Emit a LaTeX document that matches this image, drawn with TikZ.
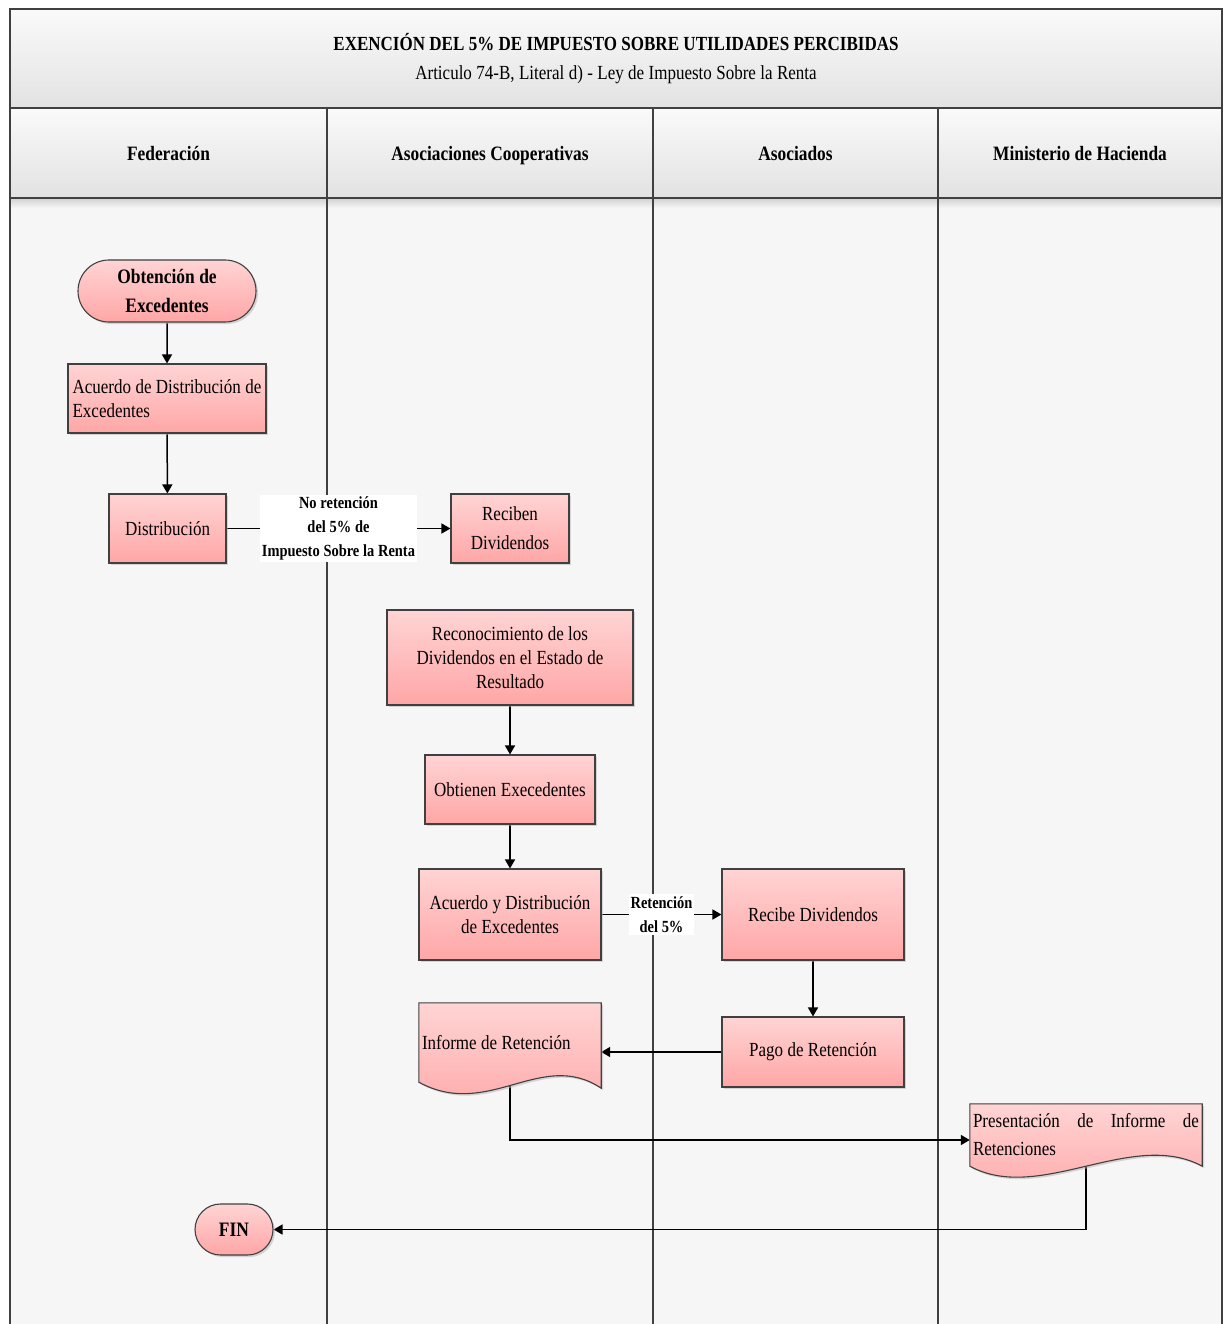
\documentclass[tikz,border=0pt]{standalone}
\usepackage{fontspec}
\setmainfont{Liberation Serif}[FakeStretch=0.85]
\usetikzlibrary{arrows.meta,shapes.misc,shadows,calc}
\newcommand\tightsp{\spaceskip=0.22em plus 0.3em minus 0.05em\relax}
\definecolor{pinkT}{RGB}{255,212,212}
\definecolor{pinkB}{RGB}{255,166,166}
\definecolor{edgecol}{RGB}{64,64,64}
\definecolor{hdrT}{RGB}{250,250,250}
\definecolor{hdrB}{RGB}{226,226,226}
\definecolor{lanebg}{RGB}{246,246,246}
\pgfdeclarelayer{lanes}
\pgfdeclarelayer{conn}
\pgfsetlayers{lanes,conn,main}
\tikzset{
  proc/.style={draw=edgecol, line width=1.1pt, top color=pinkT, bottom color=pinkB,
    drop shadow={shadow xshift=2pt, shadow yshift=-2pt, fill=black!30},
    align=center, font=\fontsize{20}{24}\selectfont\tightsp, inner sep=2pt},
  term/.style={rounded rectangle, draw=edgecol, line width=1.1pt, top color=pinkT, bottom color=pinkB,
    drop shadow={shadow xshift=2pt, shadow yshift=-2pt, fill=black!30},
    align=center, font=\bfseries\fontsize{20.5}{29}\selectfont\tightsp, inner sep=2pt},
  docbox/.style={draw=none, inner sep=3pt, font=\fontsize{20}{24}\selectfont\tightsp},
  docshape/.style={draw=edgecol, line width=1.1pt, top color=pinkT, bottom color=pinkB,
    drop shadow={shadow xshift=2pt, shadow yshift=-2pt, fill=black!30}},
  hdr/.style={draw=edgecol, line width=1.1pt, top color=hdrT, bottom color=hdrB, align=center, inner sep=0pt},
  lanehdr/.style={hdr, font=\bfseries\fontsize{20.4}{24}\selectfont\tightsp, minimum height=90pt, text height=17pt, text depth=1pt},
  arr/.style={-{Triangle[length=9pt,width=10pt]}, line width=1.5pt, black},
  lbl/.style={fill=white, align=center, font=\bfseries\fontsize{17}{24}\selectfont\tightsp, inner sep=2pt}
}
\begin{document}
\begin{tikzpicture}[x=1pt,y=-1pt]
\useasboundingbox (0,0) rectangle (1223,1324);
\begin{pgfonlayer}{lanes}
\fill[white] (0,0) rectangle (1223,1324);
\fill[lanebg] (10,198) rectangle (1222,1324);
\shade[top color=black!18, bottom color=lanebg] (10,198) rectangle (1222,208);
\draw[edgecol, line width=1.1pt] (10,198) -- (10,1324);
\draw[edgecol, line width=1.1pt] (327,198) -- (327,1324);
\draw[edgecol, line width=1.1pt] (653,198) -- (653,1324);
\draw[edgecol, line width=1.1pt] (938,198) -- (938,1324);
\draw[edgecol, line width=1.1pt] (1222,198) -- (1222,1324);
\end{pgfonlayer}

% title and lane headers
\node[hdr, minimum width=1212pt, minimum height=100pt, font=\fontsize{20}{29}\selectfont\tightsp] (title) at (616,59)
  {{\bfseries EXENCIÓN DEL 5\% DE IMPUESTO SOBRE UTILIDADES PERCIBIDAS}\\
   Articulo 74-B, Literal d) - Ley de Impuesto Sobre la Renta};
\node[lanehdr, minimum width=317pt] (h1) at (168.5,153) {Federación};
\node[lanehdr, minimum width=326pt] (h2) at (490,153) {Asociaciones Cooperativas};
\node[lanehdr, minimum width=285pt] (h3) at (795.5,153) {Asociados};
\node[lanehdr, minimum width=284pt] (h4) at (1080,153) {Ministerio de Hacienda};

% process nodes
\node[term, minimum width=182pt, minimum height=62pt] (start) at (167,291) {Obtención de\\Excedentes};
\node[proc, minimum width=198pt, minimum height=69pt, inner xsep=2pt, align=left] (acu) at (167,398.5) {Acuerdo de Distribución de\\Excedentes};
\node[proc, minimum width=117pt, minimum height=69pt] (dis) at (167.5,528.5) {Distribución};
\node[proc, minimum width=118pt, minimum height=69pt, font=\fontsize{20}{29}\selectfont\tightsp] (rec) at (510,528.5) {Reciben\\Dividendos};
\node[proc, minimum width=246pt, minimum height=95pt] (recon) at (510,657.5) {Reconocimiento de los\\Dividendos en el Estado de\\Resultado};
\node[proc, minimum width=170pt, minimum height=69pt] (obt) at (510,789.5) {Obtienen Execedentes};
\node[proc, minimum width=182pt, minimum height=91pt] (acy) at (510,914.5) {Acuerdo y Distribución\\de Excedentes};
\node[proc, minimum width=182pt, minimum height=91pt] (rbd) at (813,914.5) {Recibe Dividendos};
\node[proc, minimum width=182pt, minimum height=70pt] (pago) at (813,1052) {Pago de Retención};

% document: Informe de Retencion
\node[docbox, minimum width=182pt, minimum height=79pt] (inf) at (510,1042.5) {};
\path[docshape] (inf.north west) -- (inf.north east) -- ($(inf.south east)+(0,6)$)
  .. controls ($(inf.south east)+(-60,-34)$) and ($(inf.south west)+(70,38)$) .. (inf.south west) -- cycle;
\node[docbox, anchor=west] (inft) at (inf.west) {Informe de Retención};

% document: Presentacion
\node[docbox, minimum width=232pt, minimum height=62pt] (pres) at (1086,1135) {};
\path[docshape] (pres.north west) -- (pres.north east) -- (pres.south east)
  .. controls ($(pres.south east)+(-70,-38)$) and ($(pres.south west)+(70,38)$) .. (pres.south west) -- cycle;
\node[docbox, minimum width=232pt, minimum height=62pt, text width=226pt, align=justify, font=\fontsize{20}{28}\selectfont\tightsp] (prest) at (pres.center) {Presentación de Informe de\linebreak Retenciones};

\node[term, minimum width=82pt, minimum height=51pt] (fin) at (234,1229.5) {FIN};

% connectors
\begin{pgfonlayer}{conn}
\draw[arr] (start) -- (acu);
\draw[arr] (acu) -- (dis);
\draw[arr] (dis) -- node[lbl] {No retención\\del 5\% de\\Impuesto Sobre la Renta} (rec);
\draw[arr] (recon) -- (obt);
\draw[arr] (obt.south -| acy.north) -- (acy);
\draw[arr] (acy) -- node[lbl] {Retención\\del 5\%} (rbd);
\draw[arr] (rbd) -- (pago);
\draw[arr] (pago.west) -- (pago.west -| inf.east);
\draw[arr] (inf.south) |- ([yshift=-5pt]pres.west);
\draw[arr] (pres.south) |- (fin.east);
\end{pgfonlayer}
\end{tikzpicture}
\end{document}
